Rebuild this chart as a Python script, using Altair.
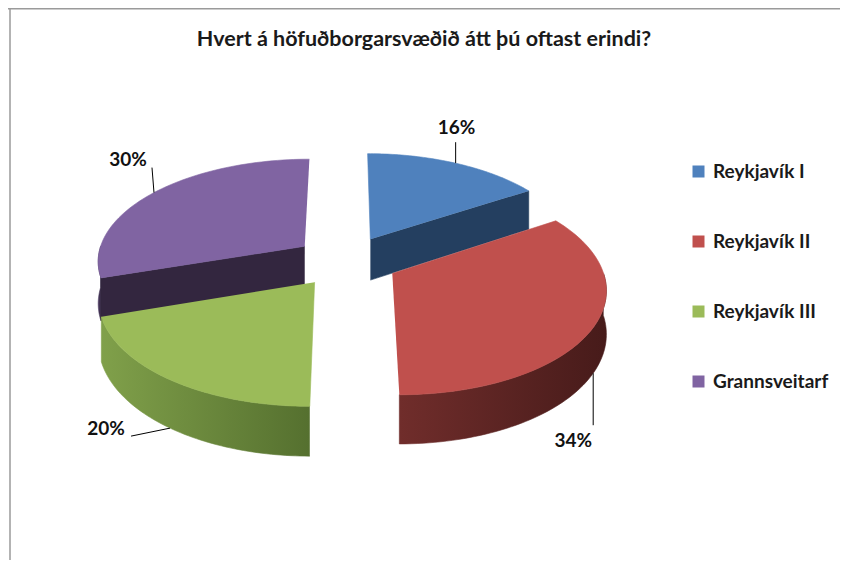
import altair as alt
import math

# ---------------- data ----------------
CATEGORIES = ["Reykjavík I", "Reykjavík II", "Reykjavík III", "Grannsveitarf"]
SHARES = [16, 34, 20, 30]
TITLE = "Hvert á höfuðborgarsvæðið átt þú oftast erindi?"

# ---------------- styles ----------------
TOP_COLORS = ["#4F81BD", "#C0504D", "#9BBB59", "#8064A2"]
WALL_GRAD = {
    "Reykjavík I": ("#2A4869", "#223B57"),
    "Reykjavík II": ("#702D2B", "#471B1A"),
    "Reykjavík III": ("#80A04A", "#55702F"),
    "Grannsveitarf": ("#4D3C63", "#33263F"),
}
RADIAL_COLOR = {
    "Reykjavík I": "#243F60",
    "Reykjavík II": "#5A2322",
    "Reykjavík III": "#5E7A35",
    "Grannsveitarf": "#33263F",
}
# label placement relative to the rim anchor: (leader dx, leader dy, text dx, text dy)
LABEL_LAYOUT = {
    "Reykjavík I": (0, -21, 1, -35),
    "Reykjavík II": (0, 52, -20, 68),
    "Reykjavík III": (-39, 8, -64, 1),
    "Grannsveitarf": (-2, -25, -26, -33),
}
FONT = "Lato"

# ---------------- geometry (chart pixels) ----------------
W, H = 832, 552
CX, CY = 338, 253
SX, SY = 208, 102
K = 0.13          # perspective strength
EXPLODE = 0.25    # explosion distance (fraction of radius)
DEPTH = 42
N = 64

XS = alt.Scale(domain=[0, W], nice=False, zero=False)
YS = alt.Scale(domain=[0, H], nice=False, zero=False, reverse=True)


def proj_x(X, Z):
    return f"{CX} + {SX}*({X})/(1 + {K}*({Z}))"


def proj_y(X, Z, h):
    return f"{CY} + (-{SY}*({Z}) + {DEPTH}*({h}))/(1 + {K}*({Z}))"


records = [
    {"cat": c, "share": s, "idx": i, "steps": list(range(2 * N + 2))}
    for i, (c, s) in enumerate(zip(CATEGORIES, SHARES))
]

base = (
    alt.Chart(alt.Data(values=records))
    .transform_window(cum="sum(share)", sort=[alt.SortField("idx")], frame=[None, 0])
    .transform_joinaggregate(total="sum(share)")
    .transform_calculate(a0="2*PI*(datum.cum - datum.share)/datum.total")
    .transform_calculate(a1="2*PI*datum.cum/datum.total")
    .transform_calculate(mid="(datum.a0 + datum.a1)/2")
    .transform_calculate(ex=f"{EXPLODE}*sin(datum.mid)")
    .transform_calculate(ez=f"{EXPLODE}*cos(datum.mid)")
)


def xy(chart, h="datum.h"):
    return chart.transform_calculate(
        px=proj_x("datum.X", "datum.Z")
    ).transform_calculate(py=proj_y("datum.X", "datum.Z", h))


def enc(chart):
    return chart.encode(
        x=alt.X("px:Q", scale=XS, axis=None),
        y=alt.Y("py:Q", scale=YS, axis=None),
        order=alt.Order("k:Q"),
    )


def top_face(c, color):
    ch = (
        base.transform_filter(alt.datum.cat == c)
        .transform_flatten(["steps"], as_=["k"])
        .transform_filter(f"datum.k <= {N + 1}")
        .transform_calculate(r="datum.k == 0 ? 0 : 1")
        .transform_calculate(th=f"datum.a0 + (datum.a1 - datum.a0)*max(datum.k - 1, 0)/{N}")
        .transform_calculate(X="datum.ex + datum.r*sin(datum.th)")
        .transform_calculate(Z="datum.ez + datum.r*cos(datum.th)")
    )
    ch = xy(ch, "0")
    return enc(ch.mark_line(filled=True, color=color, stroke=color, strokeWidth=0.6))


def outer_wall(c):
    c1, c2 = WALL_GRAD[c]
    grad = alt.Gradient(
        gradient="linear",
        stops=[alt.GradientStop(color=c1, offset=0), alt.GradientStop(color=c2, offset=1)],
        x1=0, x2=1, y1=0, y2=0,
    )
    ch = (
        base.transform_filter(alt.datum.cat == c)
        .transform_calculate(ts="max(datum.a0, PI/2)")
        .transform_calculate(te="min(datum.a1, 3*PI/2)")
        .transform_filter("datum.te > datum.ts + 0.001")
        .transform_flatten(["steps"], as_=["k"])
        .transform_calculate(top=f"datum.k <= {N}")
        .transform_calculate(t=f"datum.top ? datum.k/{N} : ({2 * N + 1} - datum.k)/{N}")
        .transform_calculate(th="datum.ts + (datum.te - datum.ts)*datum.t")
        .transform_calculate(h="datum.top ? 0 : 1")
        .transform_calculate(X="datum.ex + sin(datum.th)")
        .transform_calculate(Z="datum.ez + cos(datum.th)")
    )
    ch = xy(ch)
    return enc(ch.mark_line(filled=True, color=grad, stroke=grad, strokeWidth=0.6))


def radial_face(c):
    col = RADIAL_COLOR[c]
    ch = (
        base.transform_filter(alt.datum.cat == c)
        .transform_calculate(
            edge="sin(datum.a1) > 0.01 ? datum.a1 : (sin(datum.a0) < -0.01 ? datum.a0 : -1)"
        )
        .transform_filter("datum.edge >= 0")
        .transform_flatten(["steps"], as_=["k"])
        .transform_filter("datum.k <= 3")
        .transform_calculate(r="(datum.k == 1 || datum.k == 2) ? 1 : 0")
        .transform_calculate(h="datum.k >= 2 ? 1 : 0")
        .transform_calculate(X="datum.ex + datum.r*sin(datum.edge)")
        .transform_calculate(Z="datum.ez + datum.r*cos(datum.edge)")
    )
    ch = xy(ch)
    return enc(ch.mark_line(filled=True, color=col, stroke=col, strokeWidth=0.6))


def anchor(c):
    ch = (
        base.transform_filter(alt.datum.cat == c)
        .transform_calculate(h="cos(datum.mid) < 0 ? 1 : 0")
        .transform_calculate(X="datum.ex + sin(datum.mid)")
        .transform_calculate(Z="datum.ez + cos(datum.mid)")
        .transform_calculate(label="datum.share + '%'")
    )
    return xy(ch)


def label_layers(c):
    ldx, ldy, tdx, tdy = LABEL_LAYOUT[c]
    a = anchor(c).transform_calculate(lx=f"datum.px + {ldx}", ly=f"datum.py + {ldy}")
    leader = a.mark_rule(color="#000000", strokeWidth=1).encode(
        x=alt.X("px:Q", scale=XS, axis=None),
        y=alt.Y("py:Q", scale=YS, axis=None),
        x2="lx:Q",
        y2="ly:Q",
    )
    text = anchor(c).mark_text(
        font=FONT, fontSize=19, fontWeight="bold", color="#111111",
        dx=tdx, dy=tdy, align="center", baseline="middle",
    ).encode(
        x=alt.X("px:Q", scale=XS, axis=None),
        y=alt.Y("py:Q", scale=YS, axis=None),
        text="label:N",
    )
    return [leader, text]


# painter order: back slices first (by depth of the exploded centre)
cum = 0
depth_key = []
for c, s in zip(CATEGORIES, SHARES):
    mid = 2 * math.pi * (cum + s / 2) / sum(SHARES)
    depth_key.append((-math.cos(mid), c))
    cum += s
draw_order = [c for _, c in sorted(depth_key)]

layers = []
for c in draw_order:
    color = TOP_COLORS[CATEGORIES.index(c)]
    layers += [outer_wall(c), radial_face(c), top_face(c, color)]
for c in CATEGORIES:
    layers += label_layers(c)

legend_layer = base.transform_calculate(px="0", py="0").mark_square(opacity=0, size=10).encode(
    x=alt.X("px:Q", scale=XS, axis=None),
    y=alt.Y("py:Q", scale=YS, axis=None),
    color=alt.Color(
        "cat:N",
        scale=alt.Scale(domain=CATEGORIES, range=TOP_COLORS),
        legend=alt.Legend(
            title=None, orient="none", legendX=681, legendY=154, padding=0,
            symbolType="square", symbolSize=144, symbolOpacity=1, symbolStrokeWidth=0,
            labelFont=FONT, labelFontSize=19, labelFontWeight="bold", labelColor="#1a1a1a",
            labelOffset=5, rowPadding=50,
        ),
    ),
)

frame_data = alt.Data(values=[{"f": 1}])
frame_top = alt.Chart(frame_data).mark_rule(color="#9a9a9a", strokeWidth=1.5).encode(
    x=alt.value(0), x2=alt.value(W), y=alt.value(0.75)
)
frame_left = alt.Chart(frame_data).mark_rule(color="#9a9a9a", strokeWidth=1.5).encode(
    x=alt.value(2), y=alt.value(0), y2=alt.value(H)
)

chart = alt.layer(frame_top, frame_left, *layers, legend_layer).properties(
    width=W,
    height=H,
    padding=0,
    autosize=alt.AutoSizeParams(type="none"),
    title=alt.TitleParams(
        text=TITLE, font=FONT, fontSize=21.5, fontWeight="bold", color="#1a1a1a",
        anchor="middle", frame="group", offset=-44,
    ),
).configure_view(stroke=None)

chart.save("out.html", embed_options={"renderer": "svg", "actions": False})
